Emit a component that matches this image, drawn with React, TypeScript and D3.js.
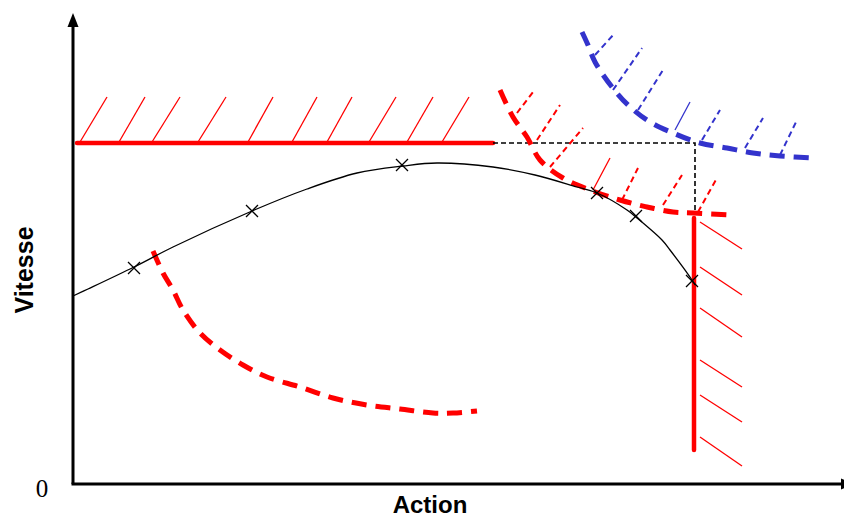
import React from "react";
import * as d3 from "d3";

type P = [number, number];

// Diagram coordinates (x: 0..770 along "Action", y: 0..470 along "Vitesse")
const speedCurve: P[] = [
  [0, 188], [15, 195], [61, 217], [100, 237], [179, 273], [234, 295], [284, 311],
  [330, 318], [364, 321], [420, 317], [462, 309], [504, 297], [524, 291], [554, 274],
  [564, 266], [589, 244], [597, 234], [619, 204], [622, 199],
];
const markers: P[] = [[61, 216], [179, 273], [329, 319], [524, 291], [563, 268], [619, 203]];

const lowerRedCurve: P[] = [
  [80, 233], [90, 211], [100, 194], [110, 174], [127, 151], [147, 134], [170, 119],
  [194, 107], [227, 97], [260, 86], [294, 79], [327, 75], [360, 71], [380, 71], [404, 73],
];
const upperRedCurve: P[] = [
  [427, 394], [440, 367], [454, 347], [467, 324], [490, 306], [517, 294], [547, 284],
  [574, 277], [600, 272], [620, 271], [660, 269],
];
const redCurveHatchBase: P[] = [[444, 371], [464, 344], [477, 317], [520, 294], [549, 284], [590, 279], [625, 272]];
const redCurveHatchTip: P[] = [[460, 392], [487, 379], [510, 356], [537, 326], [565, 316], [609, 309], [644, 306]];
const redCurveHatchSolid = [false, false, false, true, false, false, false];

const blueCurve: P[] = [
  [509, 452], [515, 439], [522, 422], [539, 397], [555, 379], [577, 362], [600, 351],
  [627, 341], [654, 336], [680, 331], [707, 328], [742, 326],
];
const blueHatchBase: P[] = [[522, 429], [540, 394], [565, 374], [602, 354], [629, 344], [672, 336], [707, 329]];
const blueHatchTip: P[] = [[542, 451], [569, 436], [590, 414], [617, 382], [647, 374], [690, 366], [724, 364]];
const blueHatchSolid = [false, false, false, true, false, false, false];

const vmaxLine: P[] = [[4, 341], [420, 341]];
const vmaxHatchBaseX = [7, 46, 79, 125, 175, 219, 254, 296, 334, 369];
const vmaxHatchTipX = [34, 72, 107, 153, 200, 244, 279, 323, 360, 396];
const vmaxHatchBaseY = 342;
const vmaxHatchTipY = 387;

const umaxLine: P[] = [[621, 266], [621, 34]];
const umaxHatchBaseY = [262, 217, 176, 124, 89, 47];
const umaxHatchTipY = [235, 189, 147, 97, 62, 18];
const umaxHatchBaseX = 627;
const umaxHatchTipX = 669;

const guideLine: P[] = [[420, 341], [622, 341], [622, 271]];

const xLabel = "Action";
const yLabel = "Vitesse";
const originLabel = "0";

const RED = "#ff0000";
const BLUE = "#3333cc";

export default function App() {
  const W = 844, H = 518;
  const x = d3.scaleLinear().domain([0, 770]).range([73, 843]);
  const y = d3.scaleLinear().domain([0, 470]).range([484, 14]);

  const smooth = d3.line<P>().x(d => x(d[0])).y(d => y(d[1])).curve(d3.curveCatmullRom.alpha(0.5));
  const straight = d3.line<P>().x(d => x(d[0])).y(d => y(d[1]));

  const x0 = x(0), y0 = y(0);

  return (
    <svg width={W} height={H} style={{ position: "absolute", left: 0, top: 0, background: "#fff" }}>
      {/* axes */}
      <line x1={x0} y1={y0} x2={x0} y2={26} stroke="#000" strokeWidth={3} />
      <path d={`M${x0},${13} L${x0 - 5.5},${27} L${x0 + 5.5},${27} Z`} fill="#000" />
      <line x1={x0 - 1.5} y1={y0} x2={842} y2={y0} stroke="#000" strokeWidth={3} />
      <path d={`M${855},${y0} L${841},${y0 - 5.5} L${841},${y0 + 5.5} Z`} fill="#000" />

      {/* upper speed limit with hatching */}
      <path d={straight(vmaxLine)!} stroke={RED} strokeWidth={4.5} fill="none" strokeLinecap="round" />
      {vmaxHatchBaseX.map((bx, i) => (
        <line key={"vh" + i} x1={x(bx)} y1={y(vmaxHatchBaseY)} x2={x(vmaxHatchTipX[i])} y2={y(vmaxHatchTipY)}
          stroke={RED} strokeWidth={1.3} />
      ))}

      {/* action limit with hatching */}
      <path d={straight(umaxLine)!} stroke={RED} strokeWidth={4.5} fill="none" strokeLinecap="round" />
      {umaxHatchBaseY.map((by, i) => (
        <line key={"uh" + i} x1={x(umaxHatchBaseX)} y1={y(by)} x2={x(umaxHatchTipX)} y2={y(umaxHatchTipY[i])}
          stroke={RED} strokeWidth={1.3} />
      ))}

      {/* guide dashed */}
      <path d={straight(guideLine)!} stroke="#000" strokeWidth={1.6} fill="none" strokeDasharray="5 3" />

      {/* red curve hatches */}
      {redCurveHatchBase.map((b, i) => (
        <line key={"rh" + i} x1={x(b[0])} y1={y(b[1])} x2={x(redCurveHatchTip[i][0])} y2={y(redCurveHatchTip[i][1])}
          stroke={RED} strokeWidth={redCurveHatchSolid[i] ? 1.3 : 2}
          strokeDasharray={redCurveHatchSolid[i] ? undefined : "6 4"} />
      ))}
      {/* blue curve hatches */}
      {blueHatchBase.map((b, i) => (
        <line key={"bh" + i} x1={x(b[0])} y1={y(b[1])} x2={x(blueHatchTip[i][0])} y2={y(blueHatchTip[i][1])}
          stroke={BLUE} strokeWidth={blueHatchSolid[i] ? 1.3 : 2}
          strokeDasharray={blueHatchSolid[i] ? undefined : "6 4"} />
      ))}

      {/* thick dashed curves */}
      <path d={smooth(lowerRedCurve)!} stroke={RED} strokeWidth={5} fill="none" strokeDasharray="15 9" />
      <path d={smooth(upperRedCurve)!} stroke={RED} strokeWidth={5} fill="none" strokeDasharray="15 9" />
      <path d={smooth(blueCurve)!} stroke={BLUE} strokeWidth={5} fill="none" strokeDasharray="15 9" />

      {/* speed curve */}
      <path d={smooth(speedCurve)!} stroke="#000" strokeWidth={1.3} fill="none" />
      {markers.map((m, i) => {
        const cx = x(m[0]), cy = y(m[1]), s = 6;
        return (
          <path key={"m" + i} d={`M${cx - s},${cy - s}L${cx + s},${cy + s}M${cx - s},${cy + s}L${cx + s},${cy - s}`}
            stroke="#000" strokeWidth={1.3} />
        );
      })}

      {/* labels */}
      <text x={430} y={513} textAnchor="middle" fontFamily="Liberation Sans, Arial, sans-serif"
        fontWeight="bold" fontSize={24}>{xLabel}</text>
      <text transform="translate(33,270) rotate(-90)" textAnchor="middle"
        fontFamily="Liberation Sans, Arial, sans-serif" fontWeight="bold" fontSize={25}>{yLabel}</text>
      <text x={42} y={497} textAnchor="middle" fontFamily="Liberation Serif, Times New Roman, serif"
        fontSize={25}>{originLabel}</text>
    </svg>
  );
}
